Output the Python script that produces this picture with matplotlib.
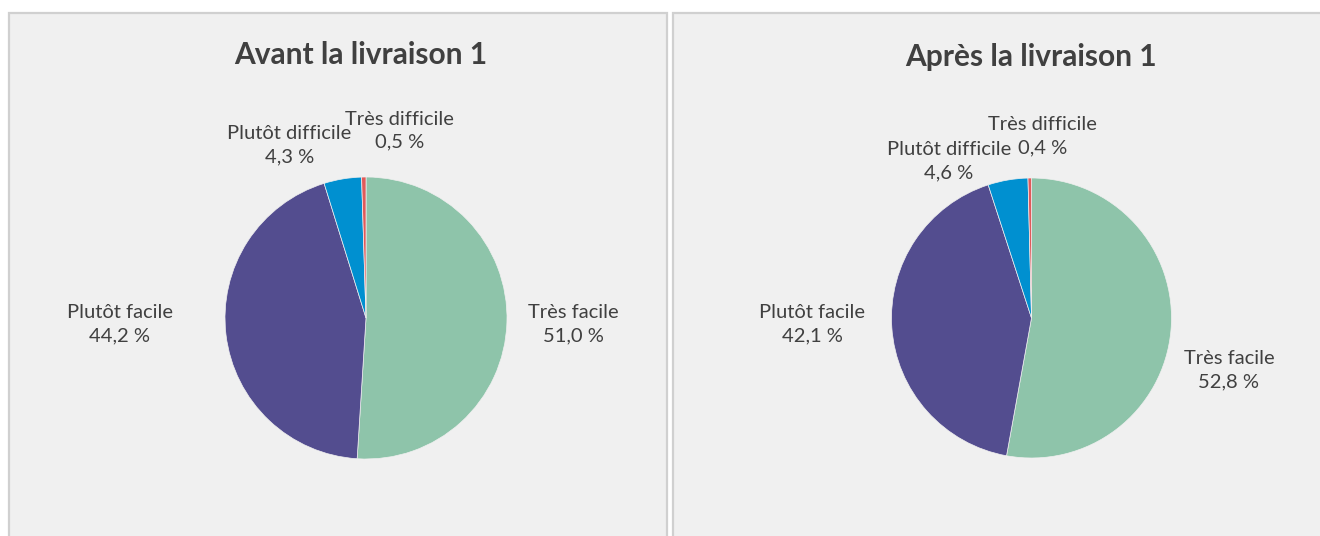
import matplotlib
matplotlib.use("Agg")
import matplotlib.pyplot as plt
from matplotlib.patches import Rectangle

# ---- data ----
categories = ["Très facile", "Plutôt facile", "Plutôt difficile", "Très difficile"]
avant_values = [51.0, 44.2, 4.3, 0.5]
apres_values = [52.8, 42.1, 4.6, 0.4]
titles = ["Avant la livraison 1", "Après la livraison 1"]
colors = ["#8EC4AA", "#534D8F", "#0090D0", "#E05A5A"]

# ---- layout (pixels) ----
W, H = 1320, 536
plt.rcParams['font.family'] = ['Lato', 'DejaVu Sans']
fig = plt.figure(figsize=(W / 100, H / 100), dpi=100)
fig.patch.set_facecolor("white")

def fx(x):
    return x / W

def fy(y):
    return 1 - y / H

# panels
for (x0, x1) in [(9, 667), (673, 1330)]:
    fig.patches.append(Rectangle((fx(x0), fy(545)), fx(x1 - x0), (545 - 13) / H,
                                 transform=fig.transFigure, facecolor="#F0F0F0",
                                 edgecolor="#D0D0D0", linewidth=1.6, zorder=-10))

pies = [
    dict(values=avant_values, title=titles[0], cx=366, cy=318, r=141, tx=361, ty=55,
         label_pos=[(1.468, -0.043), (-1.745, -0.043), (-0.545, 1.227), (0.235, 1.33)]),
    dict(values=apres_values, title=titles[1], cx=1031.5, cy=318, r=140, tx=1031, ty=57,
         label_pos=[(1.41, -0.371), (-1.568, -0.043), (-0.59, 1.121), (0.08, 1.30)]),
]

text_color = "#404040"
for p in pies:
    cx, cy, r = p["cx"], p["cy"], p["r"]
    ax = fig.add_axes([fx(cx - r), fy(cy + r), 2 * r / W, 2 * r / H], zorder=5)
    ax.patch.set_visible(False)
    ax.pie(p["values"], colors=colors, startangle=90, counterclock=False,
           radius=1, wedgeprops=dict(linewidth=0.5, edgecolor="#F0F0F0"))
    ax.set_xlim(-1, 1)
    ax.set_ylim(-1, 1)
    ax.set_aspect("equal")
    ax.axis("off")
    for cat, val, (lx, ly) in zip(categories, p["values"], p["label_pos"]):
        lab = f"{cat}\n{val:.1f} %".replace(".", ",")
        ax.text(lx, ly, lab, ha="center", va="center", fontsize=14.5,
                color=text_color, linespacing=1.42, clip_on=False)
    fig.text(fx(p["tx"]), fy(p["ty"]), p["title"], ha="center", va="center",
             fontsize=21.5, fontweight="bold", color=text_color, zorder=6)

fig.savefig("out.png", dpi=100, facecolor="white")
